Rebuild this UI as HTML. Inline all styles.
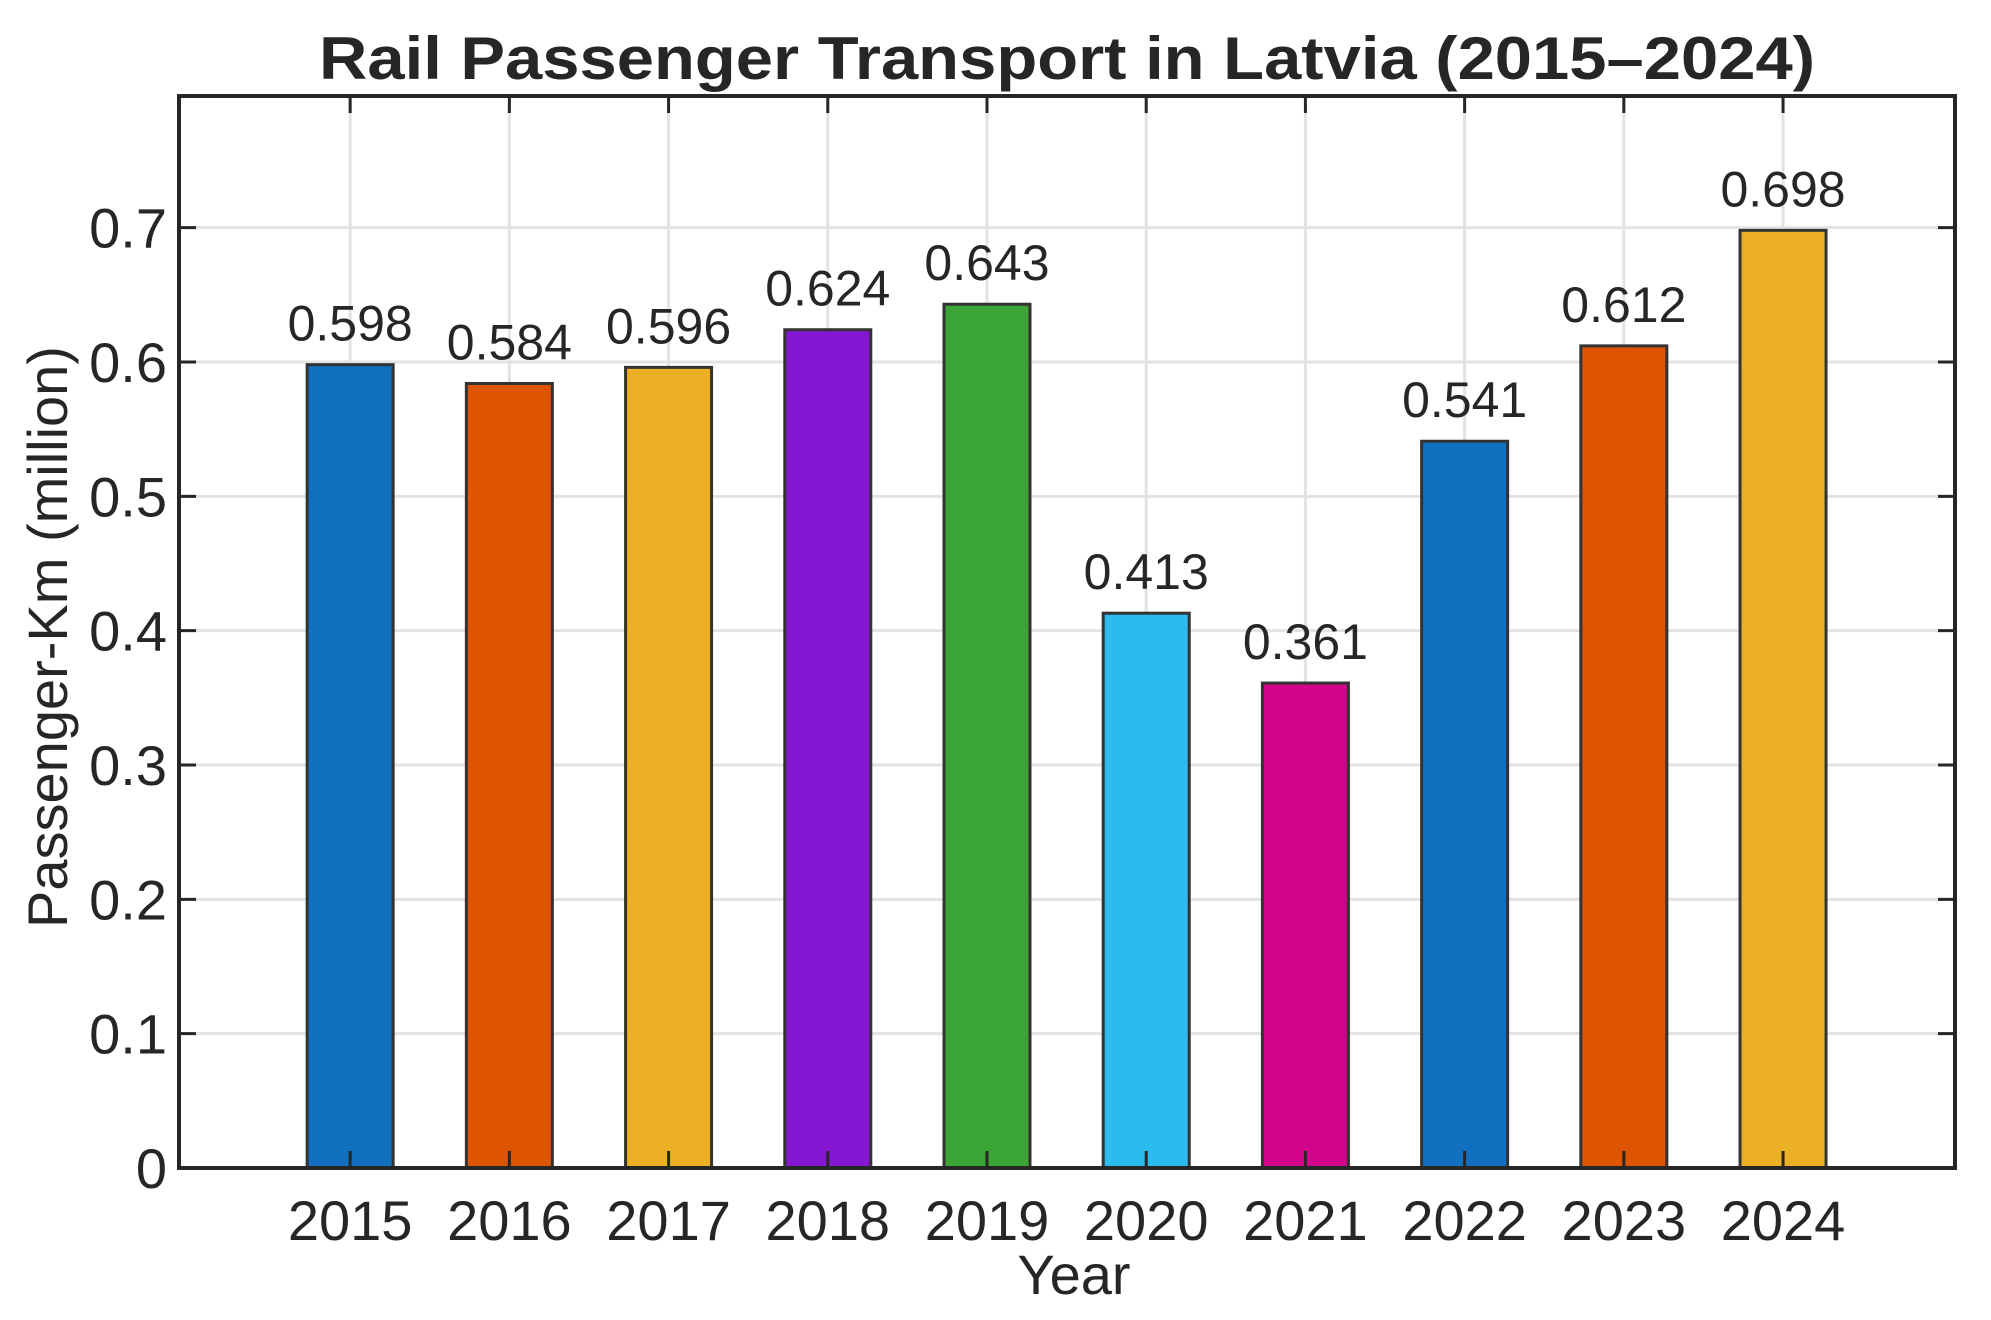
<!DOCTYPE html>
<html><head><meta charset="utf-8"><style>
html,body{margin:0;padding:0;background:#fff;}
svg{display:block;font-family:"Liberation Sans",Arial,sans-serif;}
</style></head><body>
<svg id="chart" width="1991" height="1320" viewBox="0 0 1991 1320" xmlns="http://www.w3.org/2000/svg">
<rect x="0" y="0" width="1991" height="1320" fill="#fff"/>
<g id="grid"></g>
<g id="bars"></g>
<g id="axes"></g>
<g id="labels"></g>
<text x="1067" y="79" text-anchor="middle" font-size="60" font-weight="bold" fill="#262626" textLength="1496" lengthAdjust="spacingAndGlyphs">Rail Passenger Transport in Latvia (2015–2024)</text>
<text transform="translate(67,637) rotate(-90)" text-anchor="middle" font-size="56" fill="#262626">Passenger-Km (million)</text>
<text x="1074" y="1294" text-anchor="middle" font-size="56" fill="#262626">Year</text>
</svg>
<script>
const years = [2015,2016,2017,2018,2019,2020,2021,2022,2023,2024];
const values = [0.598,0.584,0.596,0.624,0.643,0.413,0.361,0.541,0.612,0.698];
const yTicks = [0,0.1,0.2,0.3,0.4,0.5,0.6,0.7];
const colors = ["#1170BF","#DD5500","#EBB023","#8516D1","#3BA535","#2CBBEE","#D2058A","#1170BF","#DD5500","#EBB023"];

const NS = "http://www.w3.org/2000/svg";
const L = 179, R = 1955, T = 96, B = 1168;
const xMin = 2013.925, xMax = 2025.08, yMin = 0, yMax = 0.798;
const xs = v => L + (v - xMin) / (xMax - xMin) * (R - L);
const ys = v => B - (v - yMin) / (yMax - yMin) * (B - T);
const barW = 86 / ((R - L) / (xMax - xMin));
function mk(tag, attrs, parent){const e=document.createElementNS(NS,tag);for(const k in attrs)e.setAttribute(k,attrs[k]);parent.appendChild(e);return e;}
const grid=document.getElementById('grid'), bars=document.getElementById('bars'), axes=document.getElementById('axes'), labels=document.getElementById('labels');

yTicks.forEach(t=>{
  const g = mk('line',{x1:L,x2:R,y1:ys(t),y2:ys(t),stroke:'#e3e3e3','stroke-width':3},grid);
  
  
  const tl = mk('line',{x1:L,x2:L+17,y1:ys(t),y2:ys(t),stroke:'#262626','stroke-width':3},axes);
  
  
  const tr = mk('line',{x1:R-17,x2:R,y1:ys(t),y2:ys(t),stroke:'#262626','stroke-width':3},axes);
  
  
  const tx = mk('text',{x:167,y:ys(t)+20,'text-anchor':'end','font-size':56,fill:'#262626'},axes);
  tx.textContent = String(t);
  
  
});
years.forEach((yr,i)=>{
  const cx = xs(yr);
  const g = mk('line',{x1:cx,x2:cx,y1:T,y2:B,stroke:'#e3e3e3','stroke-width':3},grid);
  
  
  const top = ys(values[i]);
  const r = mk('rect',{x:cx-barW*(R-L)/(xMax-xMin)/2,y:top,width:barW*(R-L)/(xMax-xMin),height:B-top,fill:colors[i],stroke:'#333','stroke-width':3},bars);
  
  
  const v = mk('text',{x:cx,y:top-24,'text-anchor':'middle','font-size':50,fill:'#262626'},labels);
  v.textContent = values[i].toFixed(3);
  
  
  const tb = mk('line',{x1:cx,x2:cx,y1:B-17,y2:B,stroke:'#262626','stroke-width':3},axes);
  
  
  const tt = mk('line',{x1:cx,x2:cx,y1:T,y2:T+17,stroke:'#262626','stroke-width':3},axes);
  
  
  const xl = mk('text',{x:cx,y:1240,'text-anchor':'middle','font-size':56,fill:'#262626'},axes);
  xl.textContent = String(yr);
  
  
});
const box = mk('rect',{x:L,y:T,width:R-L,height:B-T,fill:'none',stroke:'#262626','stroke-width':4},axes);


</script>
</body></html>
